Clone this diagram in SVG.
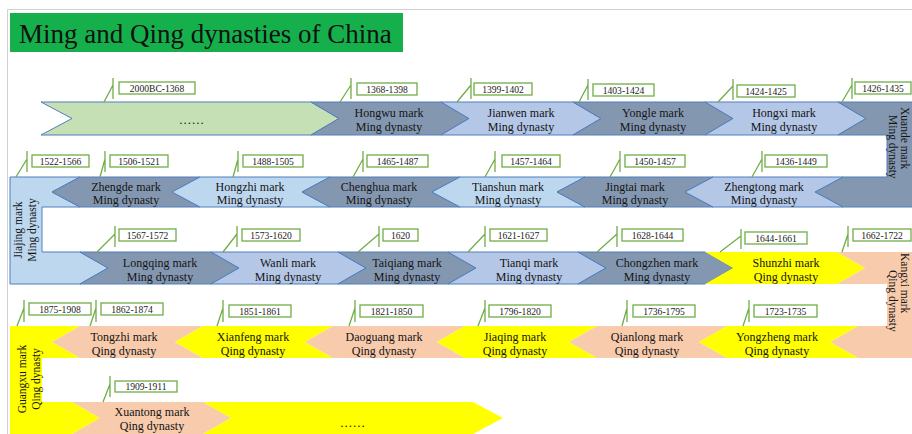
<svg xmlns="http://www.w3.org/2000/svg" width="912" height="434" viewBox="0 0 912 434">
<style>
.dk{fill:#8497b0;stroke:#4f7fbf;stroke-width:1}
.lb{fill:#b4c7e7;stroke:#4f7fbf;stroke-width:1}
.sb{fill:#bdd7ee;stroke:#4f7fbf;stroke-width:1}
.gr{fill:#c5e0b4;stroke:#4f7fbf;stroke-width:1}
.ye{fill:#ffff00}
.pe{fill:#f8cbad}
.t{font-family:"Liberation Serif","DejaVu Serif","Times New Roman",serif;font-size:12px;fill:#141414;text-anchor:middle}
.v{font-family:"Liberation Serif","DejaVu Serif","Times New Roman",serif;font-size:11.5px;fill:#141414}
.box{fill:#fff;stroke:#70ad47;stroke-width:1.3}
.d{font-family:"Liberation Serif","DejaVu Serif","Times New Roman",serif;font-size:9.6px;fill:#222;text-anchor:middle}
.cl{stroke:#70ad47;stroke-width:1.3;fill:none}
.dots{font-family:"Liberation Serif","DejaVu Serif","Times New Roman",serif;font-size:13px;fill:#222;text-anchor:middle;letter-spacing:1px}
.ttl{font-family:"Liberation Serif","DejaVu Serif","Times New Roman",serif;font-size:27px;fill:#111}
</style>
<rect x="0" y="0" width="912" height="434" fill="#fff"/>
<path d="M7.5 434 V9.5 H912" fill="none" stroke="#d0d0d0" stroke-width="1"/>
<g id="title">
<rect x="10" y="13" width="393" height="39" fill="#15b04c"/>
<text class="ttl" x="19" y="43">Ming and Qing dynasties of China</text>
</g>

<!-- Row 1 -->
<g id="pre-ming"><polygon class="gr" points="41,102 311,102 339,118.5 311,135 41,135 72,118.5"/><text class="dots" x="192" y="124">......</text></g>
<g id="hongwu"><polygon class="dk" points="311,102 441,102 469,118.5 441,135 311,135 339,118.5"/><text class="t" x="389" y="117">Hongwu mark</text><text class="t" x="389" y="131">Ming dynasty</text></g>
<g id="jianwen"><polygon class="lb" points="441,102 573,102 601,118.5 573,135 441,135 469,118.5"/><text class="t" x="521" y="117">Jianwen mark</text><text class="t" x="521" y="131">Ming dynasty</text></g>
<g id="yongle"><polygon class="dk" points="573,102 705,102 733,118.5 705,135 573,135 601,118.5"/><text class="t" x="653" y="117">Yongle mark</text><text class="t" x="653" y="131">Ming dynasty</text></g>
<g id="hongxi"><polygon class="lb" points="705,102 838,102 866,118.5 838,135 705,135 733,118.5"/><text class="t" x="784" y="117">Hongxi mark</text><text class="t" x="784" y="131">Ming dynasty</text></g>
<g id="xuande"><polygon class="dk" points="838,102 914,102 914,207 843,207 815,192 843,177 887,177 887,135 838,135 866,118.5"/>
<text class="v" transform="translate(901,107) rotate(90)">Xuande mark</text><text class="v" transform="translate(889,115) rotate(90)">Ming dynasty</text></g>

<!-- Row 2 -->
<g id="jiajing"><polygon class="sb" points="10,177 80,177 52,192 80,207 42,207 42,252 80,252 108,268 80,284 10,284"/>
<text class="v" text-anchor="middle" transform="translate(22,230) rotate(-90)">Jiajing mark</text><text class="v" text-anchor="middle" transform="translate(36,230) rotate(-90)">Ming dynasty</text></g>
<g id="zhengde"><polygon class="dk" points="80,177 200,177 172,192 200,207 80,207 52,192"/><text class="t" x="126" y="191">Zhengde mark</text><text class="t" x="126" y="204">Ming dynasty</text></g>
<g id="hongzhi"><polygon class="sb" points="200,177 330,177 302,192 330,207 200,207 172,192"/><text class="t" x="250" y="191">Hongzhi mark</text><text class="t" x="250" y="204">Ming dynasty</text></g>
<g id="chenghua"><polygon class="dk" points="330,177 460,177 432,192 460,207 330,207 302,192"/><text class="t" x="379" y="191">Chenghua mark</text><text class="t" x="379" y="204">Ming dynasty</text></g>
<g id="tianshun"><polygon class="sb" points="460,177 585,177 557,192 585,207 460,207 432,192"/><text class="t" x="508" y="191">Tianshun mark</text><text class="t" x="508" y="204">Ming dynasty</text></g>
<g id="jingtai"><polygon class="dk" points="585,177 713,177 685,192 713,207 585,207 557,192"/><text class="t" x="635" y="191">Jingtai mark</text><text class="t" x="635" y="204">Ming dynasty</text></g>
<g id="zhengtong"><polygon class="lb" points="713,177 843,177 815,192 843,207 713,207 685,192"/><text class="t" x="764" y="191">Zhengtong mark</text><text class="t" x="764" y="204">Ming dynasty</text></g>

<!-- Row 3 -->
<g id="longqing"><polygon class="dk" points="80,252 211,252 239,268 211,284 80,284 108,268"/><text class="t" x="160" y="267">Longqing mark</text><text class="t" x="160" y="281">Ming dynasty</text></g>
<g id="wanli"><polygon class="lb" points="211,252 338,252 366,268 338,284 211,284 239,268"/><text class="t" x="288" y="267">Wanli mark</text><text class="t" x="288" y="281">Ming dynasty</text></g>
<g id="taiqiang"><polygon class="dk" points="338,252 448,252 476,268 448,284 338,284 366,268"/><text class="t" x="407" y="267">Taiqiang mark</text><text class="t" x="407" y="281">Ming dynasty</text></g>
<g id="tianqi"><polygon class="lb" points="448,252 578,252 606,268 578,284 448,284 476,268"/><text class="t" x="529" y="267">Tianqi mark</text><text class="t" x="529" y="281">Ming dynasty</text></g>
<g id="chongzhen"><polygon class="dk" points="578,252 705,252 733,268 705,284 578,284 606,268"/><text class="t" x="657" y="267">Chongzhen mark</text><text class="t" x="657" y="281">Ming dynasty</text></g>
<g id="shunzhi"><polygon class="ye" points="705,252 837,252 865,268 837,284 705,284 733,268"/><text class="t" x="786" y="267">Shunzhi mark</text><text class="t" x="786" y="281">Qing dynasty</text></g>
<g id="kangxi"><polygon class="pe" points="837,252 914,252 914,358 858,358 830,342 858,326 887,326 887,284 837,284 865,268"/>
<text class="v" transform="translate(901,253) rotate(90)">Kangxi mark</text><text class="v" transform="translate(889,270) rotate(90)">Qing dynasty</text></g>

<!-- Row 4 -->
<g id="guangxu"><polygon class="ye" points="10,326 80,326 52,342 80,358 42,358 42,402 72,402 100,418 72,434 10,434"/>
<text class="v" text-anchor="middle" transform="translate(26,379) rotate(-90)">Guangxu mark</text><text class="v" text-anchor="middle" transform="translate(40,379) rotate(-90)">Qing dynasty</text></g>
<g id="tongzhi"><polygon class="pe" points="80,326 203,326 175,342 203,358 80,358 52,342"/><text class="t" x="124" y="341">Tongzhi mark</text><text class="t" x="124" y="355">Qing dynasty</text></g>
<g id="xianfeng"><polygon class="ye" points="203,326 333,326 305,342 333,358 203,358 175,342"/><text class="t" x="253" y="341">Xianfeng mark</text><text class="t" x="253" y="355">Qing dynasty</text></g>
<g id="daoguang"><polygon class="pe" points="333,326 465,326 437,342 465,358 333,358 305,342"/><text class="t" x="384" y="341">Daoguang mark</text><text class="t" x="384" y="355">Qing dynasty</text></g>
<g id="jiaqing"><polygon class="ye" points="465,326 597,326 569,342 597,358 465,358 437,342"/><text class="t" x="515" y="341">Jiaqing mark</text><text class="t" x="515" y="355">Qing dynasty</text></g>
<g id="qianlong"><polygon class="pe" points="597,326 727,326 699,342 727,358 597,358 569,342"/><text class="t" x="647" y="341">Qianlong mark</text><text class="t" x="647" y="355">Qing dynasty</text></g>
<g id="yongzheng"><polygon class="ye" points="727,326 858,326 830,342 858,358 727,358 699,342"/><text class="t" x="777" y="341">Yongzheng mark</text><text class="t" x="777" y="355">Qing dynasty</text></g>

<!-- Row 5 -->
<g id="xuantong"><polygon class="pe" points="72,402 203,402 231,418 203,434 72,434 100,418"/><text class="t" x="152" y="416">Xuantong mark</text><text class="t" x="152" y="430">Qing dynasty</text></g>
<g id="post-qing"><polygon class="ye" points="203,402 473,402 503,418 473,434 203,434 231,418"/><text class="dots" x="353" y="427">......</text></g>

<!-- callout connectors -->
<g id="connectors" class="cl">
<path d="M104 102 L113 85 M113 78 V99"/>
<path d="M340 102 L351 85 M351 78 V99"/>
<path d="M457 102 L471 85 M471 78 V99"/>
<path d="M579 102 L588 85 M588 79 V100"/>
<path d="M718 102 L733 86 M733 79 V100"/>
<path d="M842 102 L852 85 M852 78 V99"/>

<path d="M16 177 L27 159 M27 151 V172"/>
<path d="M100 177 L105 159 M105 151 V172"/>
<path d="M233 177 L238 159 M238 151 V172"/>
<path d="M353 177 L363 159 M363 151 V172"/>
<path d="M485 177 L495 159 M495 151 V172"/>
<path d="M610 177 L620 159 M620 151 V172"/>
<path d="M752 177 L762 159 M762 151 V172"/>

<path d="M97 252 L115 234 M115 226 V247"/>
<path d="M223 252 L237 234 M237 226 V247"/>
<path d="M358 252 L379 234 M379 226 V247"/>
<path d="M468 252 L485 234 M485 226 V247"/>
<path d="M597 252 L617 234 M617 226 V247"/>
<path d="M720 252 L741 236 M741 229 V249"/>
<path d="M842 252 L848 234 M848 226 V247"/>

<path d="M17 326 L24 308 M24 300 V322"/>
<path d="M90 326 L96 308 M96 300 V322"/>
<path d="M217 326 L223 308 M223 300 V322"/>
<path d="M349 326 L355 308 M355 300 V322"/>
<path d="M478 326 L485 308 M485 300 V322"/>
<path d="M622 326 L627 308 M627 300 V322"/>
<path d="M743 326 L749 308 M749 300 V322"/>

<path d="M103 402 L110 384 M110 376 V397"/>
</g>

<!-- date labels -->
<g id="dates">
<rect class="box" x="119" y="82" width="76" height="12"/><text class="d" x="157" y="91.5">2000BC-1368</text>
<rect class="box" x="357" y="83" width="60" height="12"/><text class="d" x="387" y="92.5">1368-1398</text>
<rect class="box" x="474" y="83" width="58" height="12"/><text class="d" x="503" y="92.5">1399-1402</text>
<rect class="box" x="593" y="84" width="61" height="12"/><text class="d" x="623.5" y="93.5">1403-1424</text>
<rect class="box" x="737" y="85" width="58" height="12"/><text class="d" x="766" y="94.5">1424-1425</text>
<rect class="box" x="855" y="82" width="56" height="12"/><text class="d" x="883" y="91.5">1426-1435</text>

<rect class="box" x="32" y="155" width="57" height="12"/><text class="d" x="60.5" y="164.5">1522-1566</text>
<rect class="box" x="110" y="155" width="58" height="12"/><text class="d" x="139" y="164.5">1506-1521</text>
<rect class="box" x="243" y="155" width="60" height="12"/><text class="d" x="273" y="164.5">1488-1505</text>
<rect class="box" x="367" y="155" width="61" height="12"/><text class="d" x="397.5" y="164.5">1465-1487</text>
<rect class="box" x="502" y="155" width="58" height="12"/><text class="d" x="531" y="164.5">1457-1464</text>
<rect class="box" x="625" y="155" width="60" height="12"/><text class="d" x="655" y="164.5">1450-1457</text>
<rect class="box" x="765" y="155" width="62" height="12"/><text class="d" x="796" y="164.5">1436-1449</text>

<rect class="box" x="119" y="229" width="57" height="12"/><text class="d" x="147.5" y="238.5">1567-1572</text>
<rect class="box" x="242" y="229" width="58" height="12"/><text class="d" x="271" y="238.5">1573-1620</text>
<rect class="box" x="383" y="229" width="35" height="12"/><text class="d" x="400.5" y="238.5">1620</text>
<rect class="box" x="490" y="229" width="57" height="12"/><text class="d" x="518.5" y="238.5">1621-1627</text>
<rect class="box" x="622" y="229" width="61" height="12"/><text class="d" x="652.5" y="238.5">1628-1644</text>
<rect class="box" x="745" y="232" width="62" height="12"/><text class="d" x="776" y="241.5">1644-1661</text>
<rect class="box" x="853" y="229" width="58" height="12"/><text class="d" x="882" y="238.5">1662-1722</text>

<rect class="box" x="29" y="303" width="62" height="12"/><text class="d" x="60" y="312.5">1875-1908</text>
<rect class="box" x="101" y="303" width="62" height="12"/><text class="d" x="132" y="312.5">1862-1874</text>
<rect class="box" x="229" y="305" width="62" height="12"/><text class="d" x="260" y="314.5">1851-1861</text>
<rect class="box" x="360" y="305" width="63" height="12"/><text class="d" x="391.5" y="314.5">1821-1850</text>
<rect class="box" x="489" y="305" width="62" height="12"/><text class="d" x="520" y="314.5">1796-1820</text>
<rect class="box" x="633" y="305" width="62" height="12"/><text class="d" x="664" y="314.5">1736-1795</text>
<rect class="box" x="754" y="305" width="63" height="12"/><text class="d" x="785.5" y="314.5">1723-1735</text>

<rect class="box" x="115" y="381" width="62" height="11"/><text class="d" x="146" y="390">1909-1911</text>
</g>
</svg>
